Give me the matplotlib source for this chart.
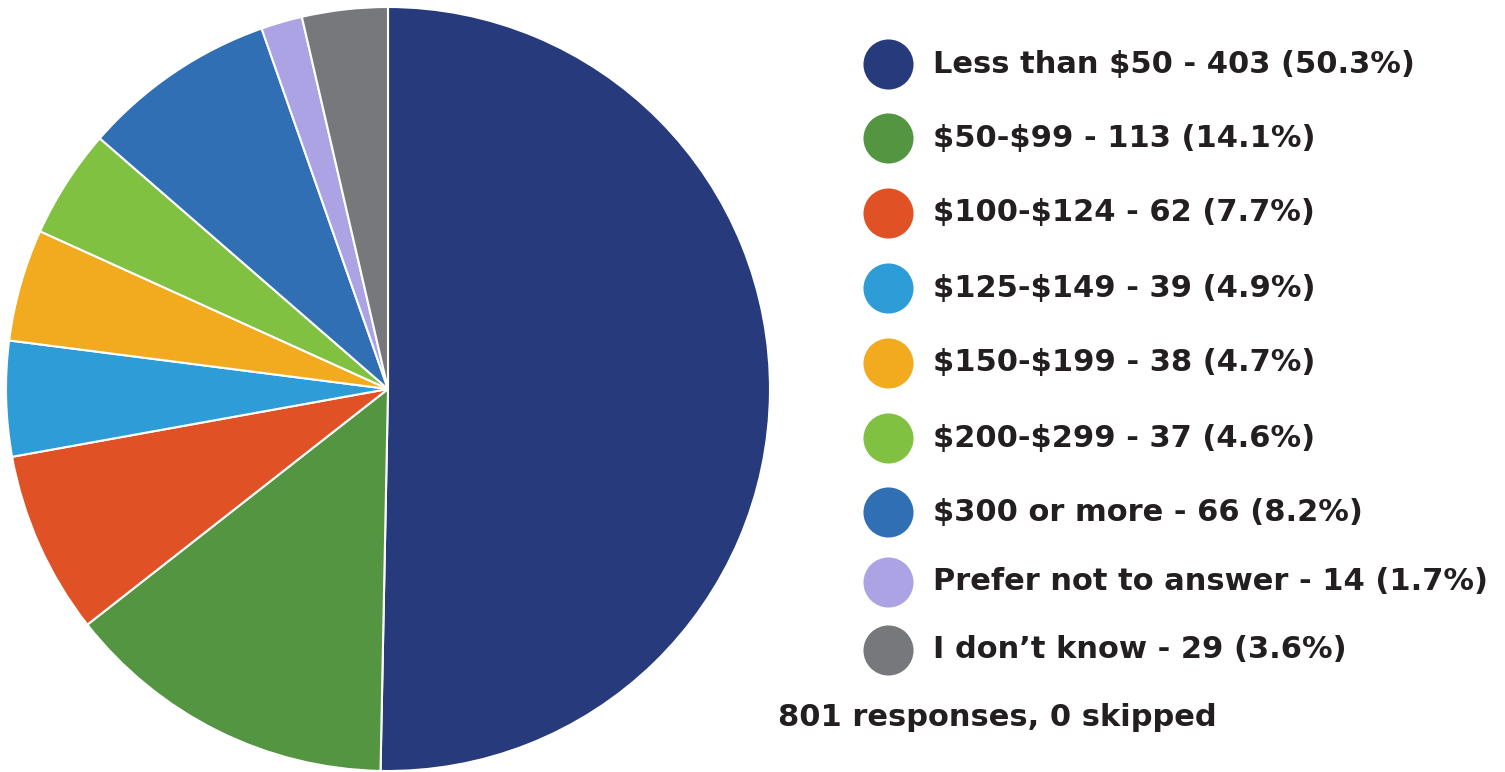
import matplotlib
matplotlib.use("Agg")
import matplotlib.pyplot as plt

plt.rcParams["text.parse_math"] = False

# data
categories = ["Less than $50", "$50-$99", "$100-$124", "$125-$149", "$150-$199",
              "$200-$299", "$300 or more", "Prefer not to answer", "I don\u2019t know"]
counts = [403, 113, 62, 39, 38, 37, 66, 14, 29]
percents = [50.3, 14.1, 7.7, 4.9, 4.7, 4.6, 8.2, 1.7, 3.6]
colors = ["#273B7C", "#549542", "#E05226", "#2E9CD6", "#F2AA1E",
          "#80C142", "#316FB4", "#ABA3E3", "#77787B"]
footer = "801 responses, 0 skipped"

W, H = 1505, 772
fig = plt.figure(figsize=(W / 100, H / 100), dpi=100)

# pie, centred at about (388, 389) px with radius 382
cx, cy, r = 388, 389, 382
ax = fig.add_axes([(cx - r) / W, (H - cy - r) / H, 2 * r / W, 2 * r / H])
ax.pie(counts, colors=colors, startangle=90, counterclock=False, radius=1,
       wedgeprops=dict(edgecolor="white", linewidth=1.5))
ax.set_xlim(-1, 1)
ax.set_ylim(-1, 1)
ax.set_aspect("auto")
ax.axis("off")

# legend in pixel coordinates
lax = fig.add_axes([0, 0, 1, 1])
lax.set_xlim(0, W)
lax.set_ylim(H, 0)
lax.axis("off")

row_y = [64, 138, 213, 288, 363, 438, 512, 582, 650]
text_color = "#231F20"
for y, cat, n, p, c in zip(row_y, categories, counts, percents, colors):
    lax.scatter([888], [y], s=1300, color=c, linewidths=0)
    lax.text(933, y, f"{cat} - {n} ({p}%)", fontsize=22, fontweight="bold",
             color=text_color, va="center", ha="left")

lax.text(778, 717, footer, fontsize=22, fontweight="bold",
         color=text_color, va="center", ha="left")

fig.savefig("out.png", dpi=100)
